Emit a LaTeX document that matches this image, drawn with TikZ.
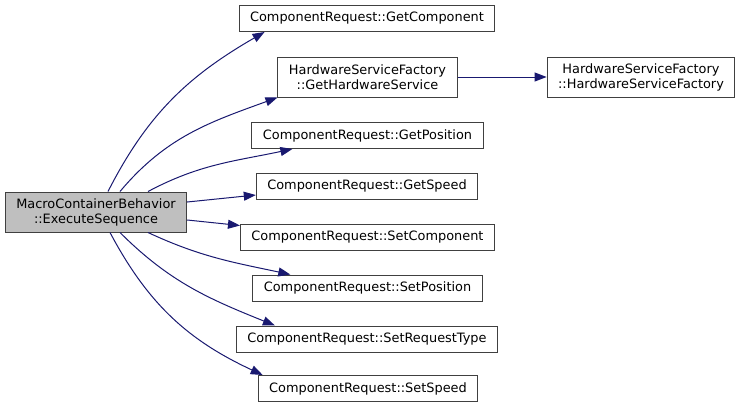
\documentclass[tikz,border=0pt]{standalone}
\usepackage{fontspec}
\setmainfont{DejaVu Sans}
\usetikzlibrary{arrows.meta}
\definecolor{edgeblue}{HTML}{191970}
\definecolor{boxline}{HTML}{404040}
\definecolor{boxfill}{HTML}{BFBFBF}
\tikzset{
 fn/.style={draw=boxline, line width=1pt, fill=white, inner xsep=11pt, inner ysep=2pt,
  minimum height=26pt, align=center, font=\fontsize{12.9}{15}\selectfont},
 fntwo/.style={fn, minimum height=40pt},
 focus/.style={fntwo, fill=boxfill},
 call/.style={draw=edgeblue, line width=1pt, -{Triangle[length=12pt,width=9pt]}}
}

\begin{document}
\begin{tikzpicture}[x=1pt, y=1pt]
 \useasboundingbox (0, 0) rectangle (740, -408);

 \node [focus] (exec) at (96, -212) {MacroContainerBehavior\\::ExecuteSequence};
 \node [fn] (getcomp) at (367, -18.5) {ComponentRequest::GetComponent};
 \node [fntwo] (gethw) at (367.5, -77) {HardwareServiceFactory\\::GetHardwareService};
 \node [fntwo] (hwfact) at (641, -77) {HardwareServiceFactory\\::HardwareServiceFactory};
 \node [fn] (getpos) at (367.5, -135.5) {ComponentRequest::GetPosition};
 \node [fn] (getspeed) at (367, -186) {ComponentRequest::GetSpeed};
 \node [fn] (setcomp) at (367.5, -237) {ComponentRequest::SetComponent};
 \node [fn] (setpos) at (367.5, -288) {ComponentRequest::SetPosition};
 \node [fn] (setreq) at (367, -339) {ComponentRequest::SetRequestType};
 \node [fn] (setspeed) at (368, -388.5) {ComponentRequest::SetSpeed};

 % calls out of ExecuteSequence
 \draw [call] ([xshift=12pt]exec.north) to [out=63, in=210] ([xshift=26pt]getcomp.south west);
 \draw [call] ([xshift=24pt]exec.north) to [out=50, in=200] (gethw.south west);
 \draw [call] ([xshift=52pt]exec.north) to [out=28, in=192] ([xshift=41pt]getpos.south west);
 \draw [call] ([yshift=10pt]exec.east) -- ([yshift=-9pt]getspeed.west);
 \draw [call] ([yshift=-8pt]exec.east) -- ([yshift=-2pt]setcomp.north west);
 \draw [call] ([xshift=52pt]exec.south) to [out=-25, in=168] ([xshift=38pt]setpos.north west);
 \draw [call] ([xshift=24pt]exec.south) to [out=-45, in=158] ([xshift=39pt]setreq.north west);
 \draw [call] ([xshift=14pt]exec.south) to [out=-62, in=155] ([xshift=5pt]setspeed.north west);
 \draw [call] (gethw) -- (hwfact);
\end{tikzpicture}
\end{document}
